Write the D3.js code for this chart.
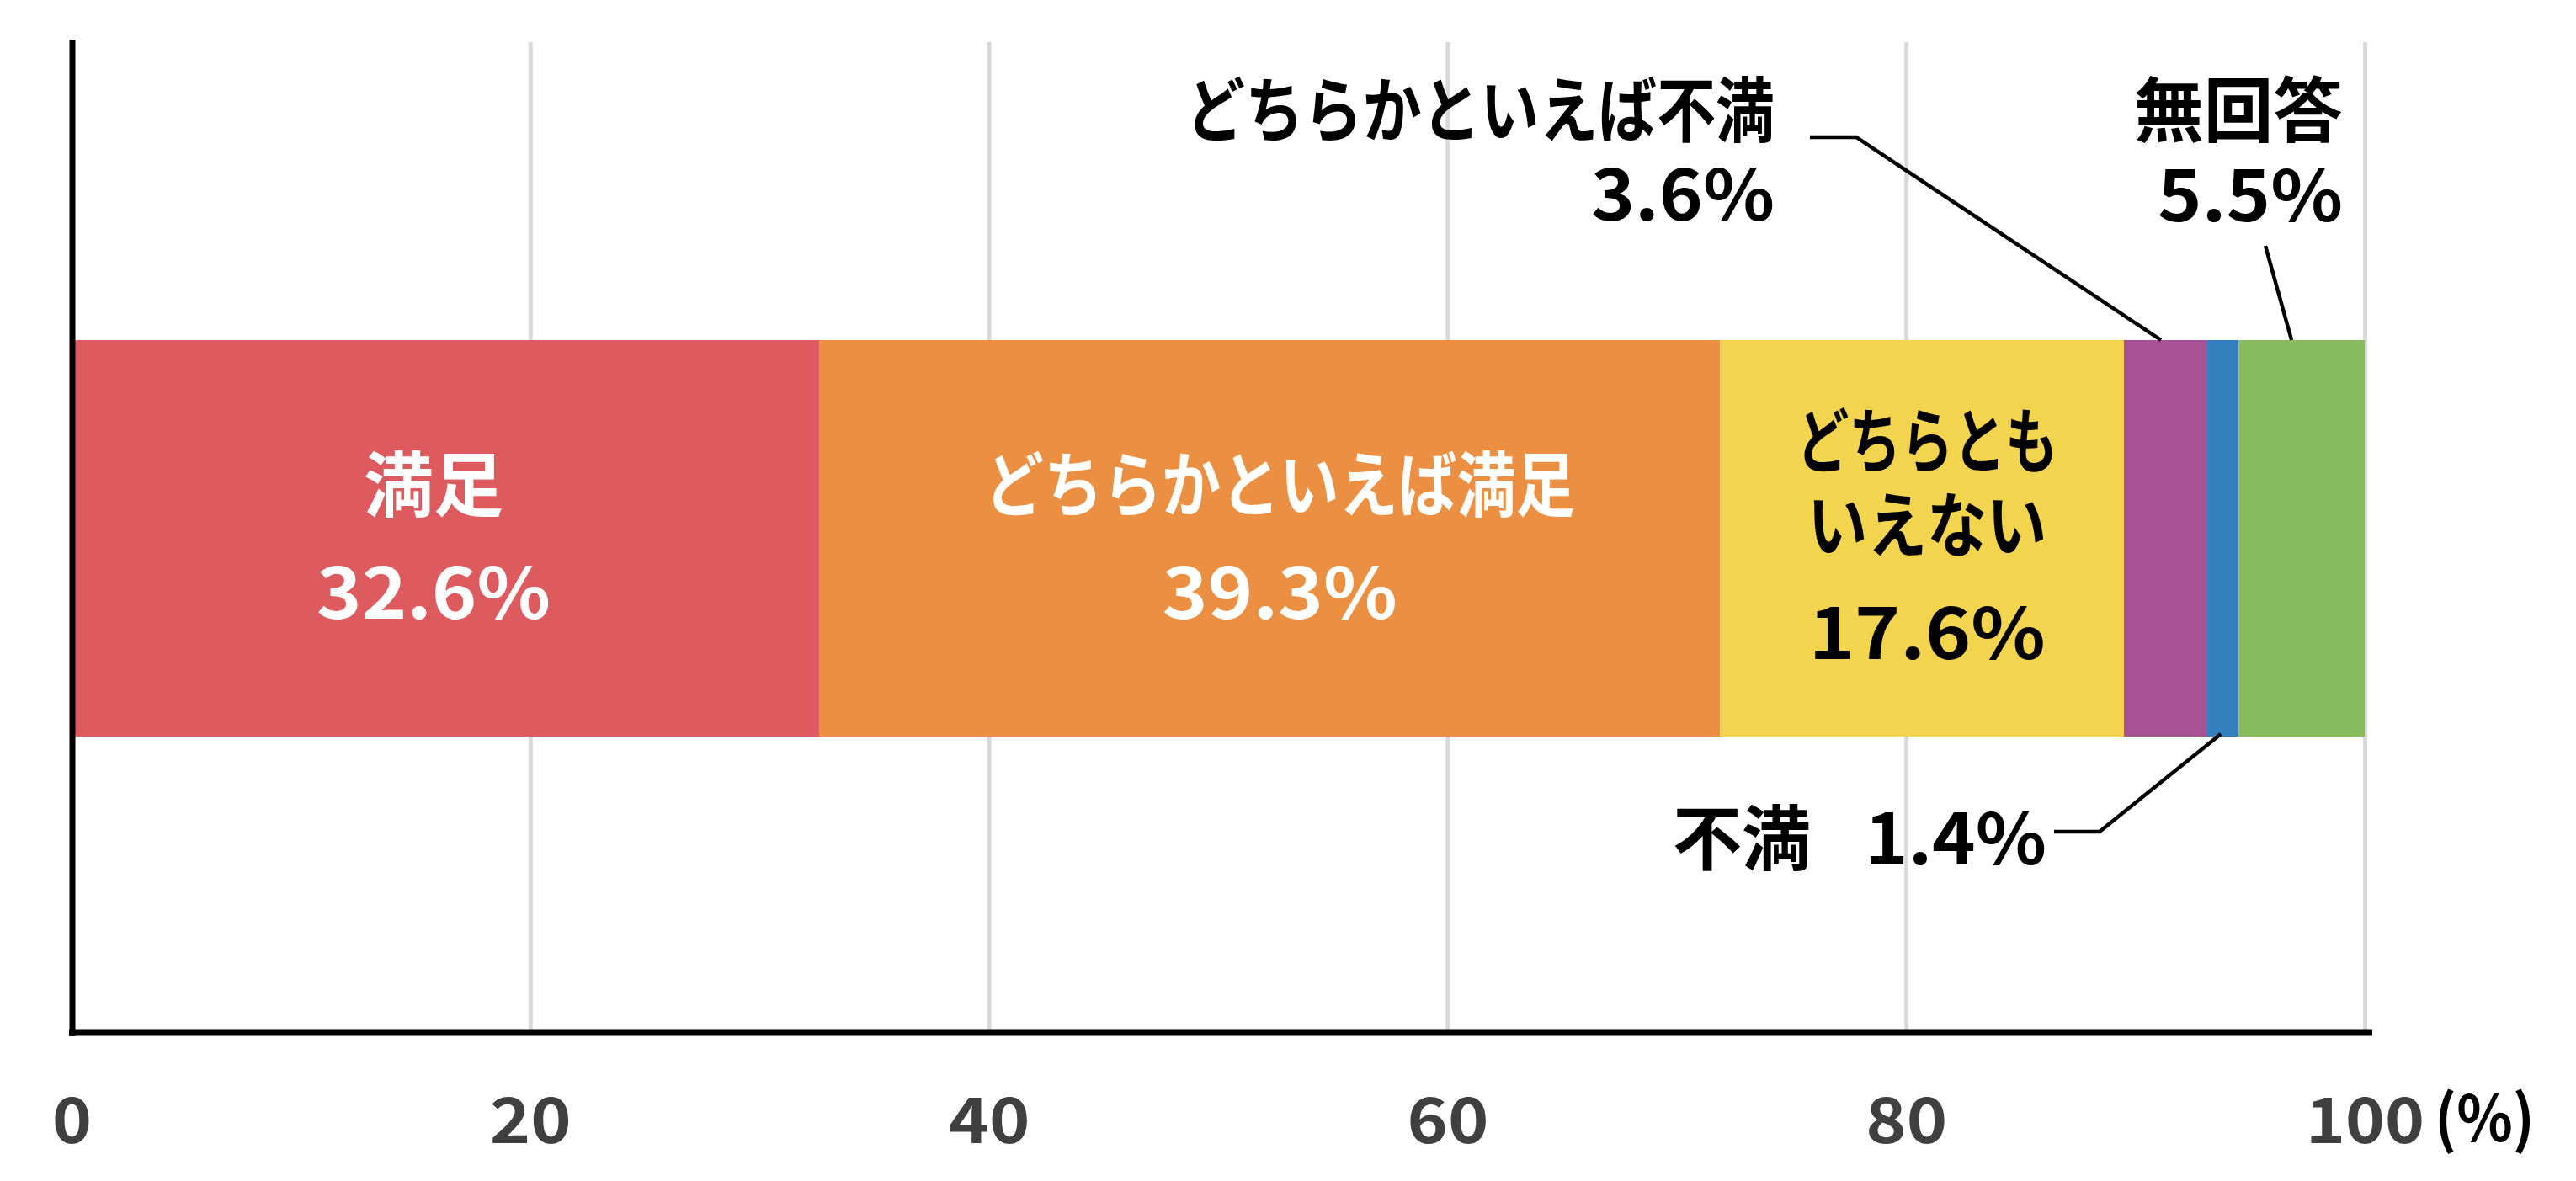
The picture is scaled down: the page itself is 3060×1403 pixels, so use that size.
<!DOCTYPE html>
<html><head><meta charset="utf-8">
<script src="https://cdn.jsdelivr.net/npm/d3@7"></script>
<style>
body{margin:0;background:#fff}
svg{display:block}
text{font-family:"Noto Sans CJK JP","Noto Sans",sans-serif;font-weight:700}
</style>
</head><body>
<svg id="c" width="3060" height="1403"></svg>
<script>
// ---- data ----
const categories = ["満足","どちらかといえば満足","どちらともいえない","どちらかといえば不満","不満","無回答"];
const values = [32.6, 39.3, 17.6, 3.6, 1.4, 5.5];
const nameLines = [["満足"],["どちらかといえば満足"],["どちらとも","いえない"],["どちらかといえば不満"],["不満"],["無回答"]];
const colors = ["#DD5B5F","#EB9043","#F2D44E","#A75294","#3480BF","#88BB5E"];
const tickValues = [0,20,40,60,80,100];
const tickLabels = ["0","20","40","60","80","100"];
const unitLabel = "(%)";

// ---- layout ----
const svg = d3.select("#c");
const x = d3.scaleLinear().domain([0,100]).range([85,2809]);
const plotTop = 50, plotBottom = 1227, barTop = 404, barBottom = 875;
const fs = 84;

const ends = d3.cumsum(values);
const segs = values.map((v,i)=>({i, v, x0: ends[i]-v, x1: ends[i]}));
const mid = d => x((d.x0+d.x1)/2);

function fit(node, w){
  if(!w) return;
  const cur = node.getComputedTextLength();
  if (Math.abs(cur - w)/w > 0.02) {
    d3.select(node).attr("textLength", w+4).attr("lengthAdjust","spacingAndGlyphs");
  }
}

// gridlines
const grid = svg.append("g").attr("transform",`translate(0,${plotTop})`)
  .call(d3.axisBottom(x).tickValues(tickValues.slice(1)).tickSize(plotBottom-plotTop).tickFormat(""));
grid.select(".domain").remove();
grid.selectAll("text").remove();
grid.selectAll("line").attr("stroke","#D9D9D9").attr("stroke-width",5);

// bars
svg.append("g").selectAll("rect").data(segs).join("rect")
  .attr("x", d=>x(d.x0)).attr("width", d=>x(d.x1)-x(d.x0))
  .attr("y", barTop).attr("height", barBottom-barTop)
  .attr("fill", d=>colors[d.i]);

// axes lines
svg.append("line").attr("x1",86).attr("x2",86).attr("y1",47).attr("y2",plotBottom+4)
  .attr("stroke","#000").attr("stroke-width",7);
svg.append("line").attr("x1",82).attr("x2",2818).attr("y1",plotBottom).attr("y2",plotBottom)
  .attr("stroke","#000").attr("stroke-width",7);

// tick labels
const tickWidths = {"0":43,"20":93,"40":93,"60":93,"80":93,"100":137};
const ax = svg.append("g").attr("transform",`translate(0,${plotBottom})`)
  .call(d3.axisBottom(x).tickValues(tickValues).tickSize(0).tickFormat((d,i)=>tickLabels[i]));
ax.select(".domain").remove();
ax.selectAll("text").attr("y",131).attr("dy",0)
  .attr("font-size",75).attr("fill","#404040")
  .style("font-family",'"Noto Sans CJK JP",sans-serif').style("font-weight",700)
  .each(function(){ fit(this, tickWidths[this.textContent]); });
svg.append("text").attr("x",2892).attr("y",1356).attr("font-size",75).attr("fill","#000").text(unitLabel)
  .each(function(){ fit(this,115); });

const pct = i => values[i].toFixed(1) + "%";

// label layout: each line has anchor x, baseline, target width
const labelLayout = [
  {anchor:"middle", xs: d=>[mid(d)-14, mid(d)-14], base:[607,735], w:[162,274], fill:"#fff"},
  {anchor:"middle", xs: d=>[mid(d)+12, mid(d)+12], base:[607,735], w:[697,275], fill:"#fff"},
  {anchor:"middle", xs: d=>[mid(d)+6, mid(d)+6, mid(d)+6], base:[555,655,783], w:[306,280,277], fill:"#000"},
  {anchor:"end", xs: ()=>[2108,2108], base:[162,262], w:[695,214], fill:"#000",
    leader: d=>[[2150,163],[2205,163],[mid(d)-5,barTop]]},
  {anchor:"end", xs: ()=>[2151,2431], base:[1027,1027], w:[160,212], fill:"#000",
    leader: d=>[[2440,988],[2494,988],[mid(d)-2,barBottom-3]]},
  {anchor:"end", xs: ()=>[2783,2783], base:[162,263], w:[244,216], fill:"#000",
    leader: d=>[[2691,292],[mid(d)-12,barTop]]}
];

segs.forEach(d=>{
  const L = labelLayout[d.i];
  const lines = [...nameLines[d.i], pct(d.i)];
  const xs = L.xs(d);
  const t = svg.append("text").attr("text-anchor", L.anchor).attr("font-size", fs).attr("fill", L.fill);
  lines.forEach((s,k)=>{
    t.append("tspan").attr("x", xs[k]).attr("y", L.base[k]).text(s)
      .each(function(){ fit(this, L.w[k]); });
  });
  if (L.leader) {
    svg.append("path").attr("d", d3.line()(L.leader(d)))
      .attr("fill","none").attr("stroke","#000").attr("stroke-width",4.5);
  }
});
</script>
</body></html>
